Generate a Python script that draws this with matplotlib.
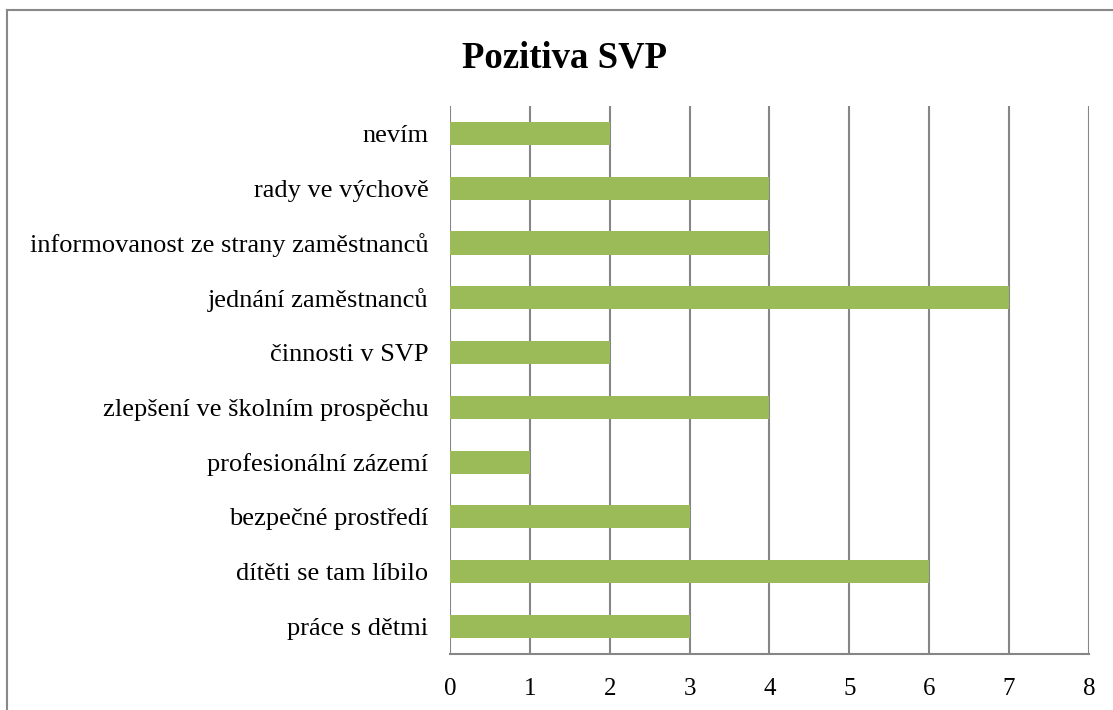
import matplotlib.pyplot as plt
from matplotlib.lines import Line2D

# data
kategorie = ["práce s dětmi", "dítěti se tam líbilo", "bezpečné prostředí",
             "profesionální zázemí", "zlepšení ve školním prospěchu",
             "činnosti v SVP", "jednání zaměstnanců",
             "informovanost ze strany zaměstnanců", "rady ve výchově", "nevím"]
hodnoty = [3, 6, 3, 1, 4, 2, 7, 4, 4, 2]
xticks = [0, 1, 2, 3, 4, 5, 6, 7, 8]

plt.rcParams['font.family'] = ['Liberation Serif', 'DejaVu Serif']

fig = plt.figure(figsize=(11.13, 7.10), dpi=100)
ax = fig.add_axes([0.4043, 0.0789, 0.9784 - 0.4043, 0.8507 - 0.0789])

grid_col = "#868686"
ax.barh(range(len(kategorie)), hodnoty, height=0.42, color="#9BBB59", zorder=3)
ax.set_xlim(0, 8)
ax.set_ylim(-0.5, len(kategorie) - 0.5)
ax.set_xticks(xticks)
ax.set_xticklabels([str(v) for v in xticks])
ax.set_yticks(range(len(kategorie)))
ax.set_yticklabels(kategorie)
ax.tick_params(axis='both', length=0)
ax.tick_params(axis='x', pad=17, labelsize=18)
ax.tick_params(axis='y', pad=15.5, labelsize=19)
ax.xaxis.grid(True, color=grid_col, linewidth=1.5, zorder=0)
for s in ["top", "right", "left"]:
    ax.spines[s].set_visible(False)
ax.spines["bottom"].set_color(grid_col)
ax.spines["bottom"].set_linewidth(1.5)

fig.text(565 / 1113, 1 - 67 / 710, "Pozitiva SVP", ha="center", va="baseline",
         fontsize=26.5, fontweight="bold")

# outer chart border (top and left visible)
fig.add_artist(Line2D([7 / 1113, 1], [1 - 10 / 710, 1 - 10 / 710],
                      transform=fig.transFigure, color="#888888", linewidth=1.5))
fig.add_artist(Line2D([7 / 1113, 7 / 1113], [0, 1 - 10 / 710],
                      transform=fig.transFigure, color="#888888", linewidth=1.5))

fig.savefig("out.png", dpi=100)
